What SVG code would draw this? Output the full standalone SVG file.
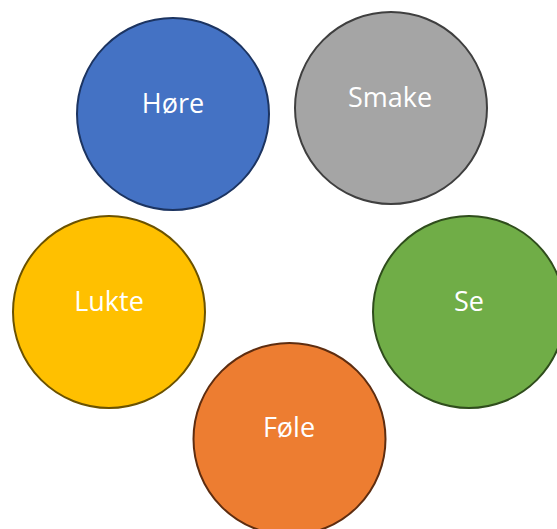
<svg xmlns="http://www.w3.org/2000/svg" width="557" height="529" viewBox="0 0 557 529">
<style>
circle{stroke-width:2}
text{font-family:"Open Sans","Liberation Sans",sans-serif;font-size:27px;fill:#fff;text-anchor:middle}
</style>
<rect width="557" height="529" fill="#fff"/>
<g id="hore"><circle cx="173" cy="114" r="96" fill="#4472C4" stroke="#1c3461"/><text x="173" y="113">Høre</text></g>
<g id="smake"><circle cx="391" cy="108" r="96" fill="#A5A5A5" stroke="#3f3f3f"/><text x="390" y="107">Smake</text></g>
<g id="se"><circle cx="469" cy="312" r="96" fill="#70AD47" stroke="#2f4d1c"/><text x="469" y="311">Se</text></g>
<g id="lukte"><circle cx="109" cy="312" r="96" fill="#FFC000" stroke="#6b5200"/><text x="109" y="311">Lukte</text></g>
<g id="fole"><circle cx="289.5" cy="439" r="96" fill="#ED7D31" stroke="#5e2d10"/><text x="289" y="437">Føle</text></g>
<g id="connectors"></g>
</svg>
